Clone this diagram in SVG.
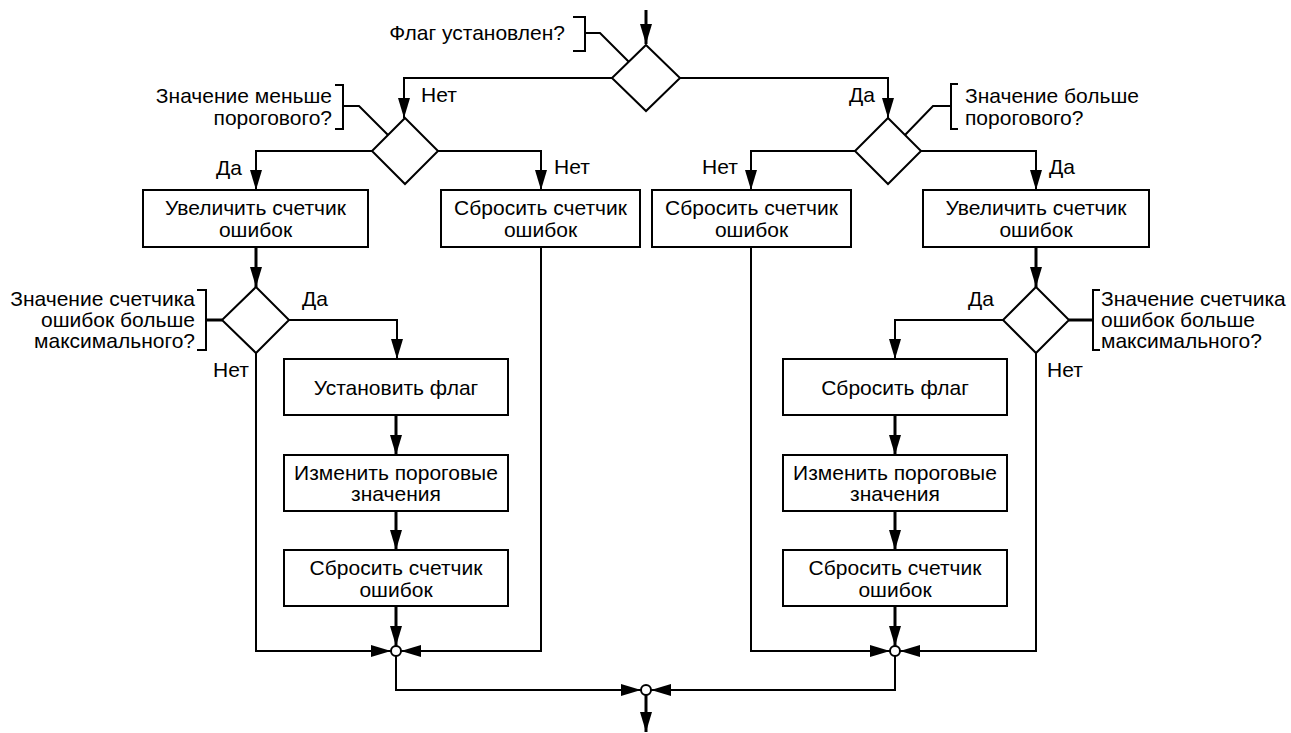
<svg xmlns="http://www.w3.org/2000/svg" width="1291" height="733" viewBox="0 0 1291 733">
<style>
text{font-family:"Liberation Sans",Arial,sans-serif;font-size:21px;fill:#000}
.c{text-anchor:middle}
.r{text-anchor:end}
.box{fill:#fff;stroke:#000;stroke-width:2}
.dia{fill:#fff;stroke:#000;stroke-width:2}
.ln{fill:none;stroke:#000;stroke-width:2}
.th{fill:none;stroke:#000;stroke-width:3}
.jn{fill:#fff;stroke:#000;stroke-width:2}
</style>
<defs>
<marker id="ar" viewBox="0 0 20 12" refX="20" refY="6" markerWidth="20" markerHeight="12" markerUnits="userSpaceOnUse" orient="auto">
<path d="M0,0 L20,6 L0,12 z" fill="#000"/>
</marker>
</defs>
<rect width="1291" height="733" fill="#fff"/>
<g id="connectors">
<path class="th" d="M646,10 V44" marker-end="url(#ar)"/>
<path class="ln" d="M612,78 H404 V118" marker-end="url(#ar)"/>
<path class="ln" d="M680,78 H888 V118" marker-end="url(#ar)"/>
<path class="ln" d="M372,151 H256 V190" marker-end="url(#ar)"/>
<path class="ln" d="M438,151 H541 V190" marker-end="url(#ar)"/>
<path class="ln" d="M855,151 H751 V190" marker-end="url(#ar)"/>
<path class="ln" d="M921,151 H1036 V190" marker-end="url(#ar)"/>
<path class="th" d="M256,247 V287" marker-end="url(#ar)"/>
<path class="th" d="M1036,247 V287" marker-end="url(#ar)"/>
<path class="ln" d="M289,320 H397 V359" marker-end="url(#ar)"/>
<path class="ln" d="M1003,320 H895 V359" marker-end="url(#ar)"/>
<path class="th" d="M396,415 V455" marker-end="url(#ar)"/>
<path class="th" d="M396,511 V550" marker-end="url(#ar)"/>
<path class="th" d="M396,606 V646" marker-end="url(#ar)"/>
<path class="th" d="M895,415 V455" marker-end="url(#ar)"/>
<path class="th" d="M895,511 V550" marker-end="url(#ar)"/>
<path class="th" d="M895,606 V646" marker-end="url(#ar)"/>
<path class="ln" d="M256,353 V651 H391" marker-end="url(#ar)"/>
<path class="ln" d="M541,247 V651 H401" marker-end="url(#ar)"/>
<path class="ln" d="M751,247 V651 H890" marker-end="url(#ar)"/>
<path class="ln" d="M1036,353 V651 H900" marker-end="url(#ar)"/>
<path class="ln" d="M396,656 V690 H641" marker-end="url(#ar)"/>
<path class="ln" d="M895,656 V690 H651" marker-end="url(#ar)"/>
<path class="th" d="M646,695 V732" marker-end="url(#ar)"/>
<circle class="jn" cx="396" cy="651" r="5"/>
<circle class="jn" cx="895" cy="651" r="5"/>
<circle class="jn" cx="646" cy="690" r="5"/>
</g>
<g id="d1">
<polygon class="dia" points="646,45 680,78 646,111 612,78"/>
<path class="ln" d="M573,17 H585 V51 H573 M585,33 H600 L629,62"/>
<text class="r" x="565" y="40">Флаг установлен?</text>
</g>
<g id="d2">
<polygon class="dia" points="405,118 438,151 405,184 372,151"/>
<path class="ln" d="M335,85 H343 V129 H335 M343,106 H359 L388,135"/>
<text class="r" x="332" y="103">Значение меньше</text>
<text class="r" x="332" y="125">порогового?</text>
</g>
<g id="d3">
<polygon class="dia" points="888,118 921,151 888,184 855,151"/>
<path class="ln" d="M958,84 H951 V129 H958 M951,106 H933 L905,135"/>
<text x="965" y="103">Значение больше</text>
<text x="965" y="125">порогового?</text>
</g>
<g id="d4">
<polygon class="dia" points="256,287 289,320 256,353 222,320"/>
<path class="ln" d="M197,290 H206 V350 H197"/>
<path class="th" d="M206,320 H222"/>
<text class="r" x="195" y="306">Значение счетчика</text>
<text class="r" x="195" y="327">ошибок больше</text>
<text class="r" x="195" y="348">максимального?</text>
</g>
<g id="d5">
<polygon class="dia" points="1036,287 1069,320 1036,353 1003,320"/>
<path class="ln" d="M1100,290 H1093 V350 H1100"/>
<path class="th" d="M1069,320 H1093"/>
<text x="1101" y="306">Значение счетчика</text>
<text x="1101" y="327">ошибок больше</text>
<text x="1101" y="348">максимального?</text>
</g>
<g id="labels">
<text x="421" y="102">Нет</text>
<text x="849" y="102">Да</text>
<text x="216" y="175">Да</text>
<text x="554" y="174">Нет</text>
<text x="702" y="174">Нет</text>
<text x="1049" y="174">Да</text>
<text x="302" y="306">Да</text>
<text x="213" y="377">Нет</text>
<text x="968" y="306">Да</text>
<text x="1047" y="377">Нет</text>
</g>
<g id="b1">
<rect class="box" x="143" y="190" width="225" height="57"/>
<text class="c" x="255.5" y="215">Увеличить счетчик</text>
<text class="c" x="255.5" y="237">ошибок</text>
</g>
<g id="b2">
<rect class="box" x="441" y="190" width="199" height="57"/>
<text class="c" x="540.5" y="215">Сбросить счетчик</text>
<text class="c" x="540.5" y="237">ошибок</text>
</g>
<g id="b3">
<rect class="box" x="652" y="190" width="199" height="57"/>
<text class="c" x="751.5" y="215">Сбросить счетчик</text>
<text class="c" x="751.5" y="237">ошибок</text>
</g>
<g id="b4">
<rect class="box" x="923" y="190" width="226" height="57"/>
<text class="c" x="1036" y="215">Увеличить счетчик</text>
<text class="c" x="1036" y="237">ошибок</text>
</g>
<g id="l1">
<rect class="box" x="284" y="359" width="224" height="56"/>
<text class="c" x="396" y="395">Установить флаг</text>
</g>
<g id="l2">
<rect class="box" x="284" y="455" width="224" height="56"/>
<text class="c" x="396" y="480">Изменить пороговые</text>
<text class="c" x="396" y="501">значения</text>
</g>
<g id="l3">
<rect class="box" x="284" y="550" width="224" height="56"/>
<text class="c" x="396" y="575">Сбросить счетчик</text>
<text class="c" x="396" y="597">ошибок</text>
</g>
<g id="r1">
<rect class="box" x="783" y="359" width="224" height="56"/>
<text class="c" x="895" y="395">Сбросить флаг</text>
</g>
<g id="r2">
<rect class="box" x="783" y="455" width="224" height="56"/>
<text class="c" x="895" y="480">Изменить пороговые</text>
<text class="c" x="895" y="501">значения</text>
</g>
<g id="r3">
<rect class="box" x="783" y="550" width="224" height="56"/>
<text class="c" x="895" y="575">Сбросить счетчик</text>
<text class="c" x="895" y="597">ошибок</text>
</g>
</svg>
